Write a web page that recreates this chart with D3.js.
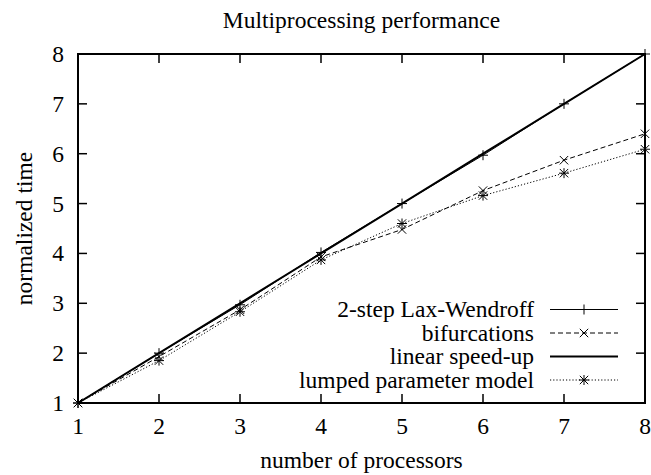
<!DOCTYPE html>
<html>
<head>
<meta charset="utf-8">
<script src="https://cdn.jsdelivr.net/npm/d3@7"></script>
<style>
  body { margin: 0; background: #fff; }
  svg text { font-family: "Liberation Serif", "Times New Roman", Times, serif; fill: #000; }
</style>
</head>
<body>
<svg id="chart" width="651" height="475"></svg>
<script>
var processors = [1, 2, 3, 4, 5, 6, 7, 8];
var laxWendroff = [1, 2.0, 2.97, 4.02, 5.0, 5.97, 7.0, 8.0];
var bifurcations = [1, 1.93, 2.87, 3.93, 4.48, 5.26, 5.87, 6.4];
var linearSpeedup = [1, 2, 3, 4, 5, 6, 7, 8];
var lumped = [1, 1.85, 2.83, 3.87, 4.6, 5.16, 5.61, 6.09];
var xTicks = [1, 2, 3, 4, 5, 6, 7, 8];
var yTicks = [1, 2, 3, 4, 5, 6, 7, 8];

var svg = d3.select('#chart');
var plotLeft = 78, plotRight = 645, plotTop = 54, plotBottom = 403;
var fontSize = '23.5px';

var x = d3.scaleLinear().domain([1, 8]).range([plotLeft, plotRight]);
var y = d3.scaleLinear().domain([1, 8]).range([plotBottom, plotTop]);

var series = [
  {name: '2-step Lax-Wendroff', values: laxWendroff, width: 1, dash: null, marker: 'plus'},
  {name: 'bifurcations', values: bifurcations, width: 1, dash: '5,3', marker: 'cross'},
  {name: 'linear speed-up', values: linearSpeedup, width: 2, dash: null, marker: null},
  {name: 'lumped parameter model', values: lumped, width: 1, dash: '1.2,2', marker: 'star'}
];

function markerPath(type, cx, cy) {
  var s = 5, d = 4.2, p = '';
  if (type === 'plus' || type === 'star') {
    p += 'M' + (cx - s) + ',' + cy + 'H' + (cx + s) + 'M' + cx + ',' + (cy - s) + 'V' + (cy + s);
  }
  if (type === 'cross' || type === 'star') {
    p += 'M' + (cx - d) + ',' + (cy - d) + 'L' + (cx + d) + ',' + (cy + d) +
         'M' + (cx - d) + ',' + (cy + d) + 'L' + (cx + d) + ',' + (cy - d);
  }
  return p;
}

// ticks, mirrored on all sides
var tickLen = 9;
var ticksG = svg.append('g').attr('stroke', '#000').attr('stroke-width', 1.5);
xTicks.slice(1, -1).forEach(function(t) {
  ticksG.append('line').attr('x1', x(t)).attr('x2', x(t)).attr('y1', plotBottom).attr('y2', plotBottom - tickLen);
  ticksG.append('line').attr('x1', x(t)).attr('x2', x(t)).attr('y1', plotTop).attr('y2', plotTop + tickLen);
});
yTicks.slice(1, -1).forEach(function(t) {
  ticksG.append('line').attr('x1', plotLeft).attr('x2', plotLeft + tickLen).attr('y1', y(t)).attr('y2', y(t));
  ticksG.append('line').attr('x1', plotRight).attr('x2', plotRight - tickLen).attr('y1', y(t)).attr('y2', y(t));
});

// tick labels
svg.append('g').selectAll('text').data(xTicks).enter().append('text')
  .attr('x', function(d) { return x(d); })
  .attr('y', plotBottom + 31)
  .attr('text-anchor', 'middle')
  .style('font-size', fontSize)
  .text(function(d) { return d; });

svg.append('g').selectAll('text').data(yTicks).enter().append('text')
  .attr('x', plotLeft - 14)
  .attr('y', function(d) { return y(d) + 8; })
  .attr('text-anchor', 'end')
  .style('font-size', fontSize)
  .text(function(d) { return d; });

// series lines and markers
var line = d3.line()
  .x(function(d, i) { return x(processors[i]); })
  .y(function(d) { return y(d); });

series.forEach(function(s) {
  svg.append('path')
    .attr('d', line(s.values))
    .attr('fill', 'none')
    .attr('stroke', '#000')
    .attr('stroke-width', s.width)
    .attr('stroke-dasharray', s.dash);
  if (s.marker) {
    svg.append('path')
      .attr('d', s.values.map(function(v, i) { return markerPath(s.marker, x(processors[i]), y(v)); }).join(''))
      .attr('fill', 'none')
      .attr('stroke', '#000')
      .attr('stroke-width', 1);
  }
});

// frame
svg.append('rect')
  .attr('x', plotLeft).attr('y', plotTop)
  .attr('width', plotRight - plotLeft).attr('height', plotBottom - plotTop)
  .attr('fill', 'none').attr('stroke', '#000').attr('stroke-width', 2);

// legend
var legX = 534, legY = 309.5, legStep = 23.5, sampleL = 550, sampleR = 618;
series.forEach(function(s, i) {
  var ly = legY + i * legStep;
  svg.append('text')
    .attr('x', legX).attr('y', ly + 7.5)
    .attr('text-anchor', 'end')
    .style('font-size', fontSize)
    .text(s.name);
  svg.append('line')
    .attr('x1', sampleL).attr('x2', sampleR).attr('y1', ly).attr('y2', ly)
    .attr('stroke', '#000').attr('stroke-width', s.width)
    .attr('stroke-dasharray', s.dash);
  if (s.marker) {
    svg.append('path')
      .attr('d', markerPath(s.marker, (sampleL + sampleR) / 2, ly))
      .attr('fill', 'none').attr('stroke', '#000').attr('stroke-width', 1);
  }
});

// titles
svg.append('text')
  .attr('x', (plotLeft + plotRight) / 2).attr('y', 28)
  .attr('text-anchor', 'middle')
  .style('font-size', fontSize)
  .text('Multiprocessing performance');

svg.append('text')
  .attr('x', (plotLeft + plotRight) / 2).attr('y', 468)
  .attr('text-anchor', 'middle')
  .style('font-size', fontSize)
  .text('number of processors');

svg.append('text')
  .attr('transform', 'translate(32,' + ((plotTop + plotBottom) / 2) + ') rotate(-90)')
  .attr('text-anchor', 'middle')
  .style('font-size', fontSize)
  .text('normalized time');
</script>
</body>
</html>
